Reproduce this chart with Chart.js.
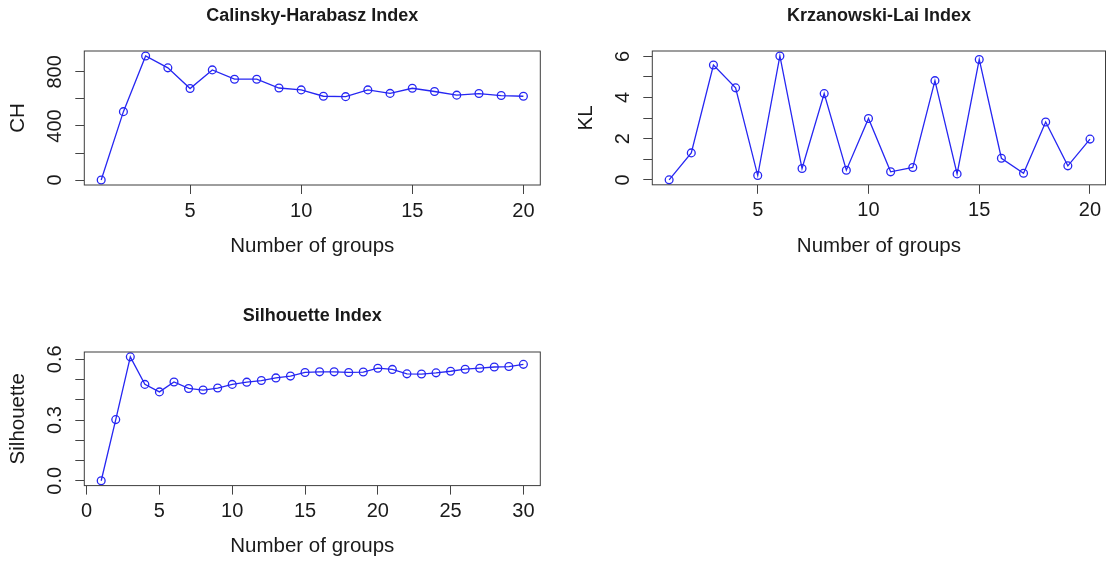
<!DOCTYPE html>
<html>
<head>
<meta charset="utf-8">
<script src="https://cdn.jsdelivr.net/npm/chart.js@4.4.1/dist/chart.umd.min.js"></script>
<style>
  html, body { margin: 0; padding: 0; background: #fff; overflow: hidden; }
  body { width: 1106px; height: 563px; position: relative; }
  .panel { position: absolute; }
</style>
</head>
<body>
<div class="panel" style="left:0;top:0;width:553px;height:281px"><canvas id="chChart"></canvas></div>
<div class="panel" style="left:553px;top:0;width:553px;height:281px"><canvas id="klChart"></canvas></div>
<div class="panel" style="left:0;top:281px;width:553px;height:282px"><canvas id="silChart"></canvas></div>
<script>
// Calinsky-Harabasz
const chGroups = [1, 2, 3, 4, 5, 6, 7, 8, 9, 10, 11, 12, 13, 14, 15, 16, 17, 18, 19, 20];
const chValues = [0, 506, 918, 830, 677, 815, 746, 746, 681, 667, 620, 617, 667, 641, 679, 655, 628, 640, 625, 620];
const chXTicks = [5, 10, 15, 20];
const chYTicks = [0, 200, 400, 600, 800];
const chYLabels = ["0", "", "400", "", "800"];

// Krzanowski-Lai
const klGroups = [1, 2, 3, 4, 5, 6, 7, 8, 9, 10, 11, 12, 13, 14, 15, 16, 17, 18, 19, 20];
const klValues = [0, 1.31, 5.58, 4.47, 0.21, 6.02, 0.55, 4.19, 0.47, 2.98, 0.39, 0.6, 4.82, 0.29, 5.85, 1.05, 0.32, 2.81, 0.68, 1.98];
const klXTicks = [5, 10, 15, 20];
const klYTicks = [0, 1, 2, 3, 4, 5, 6];
const klYLabels = ["0", "", "2", "", "4", "", "6"];

// Silhouette
const silGroups = [1, 2, 3, 4, 5, 6, 7, 8, 9, 10, 11, 12, 13, 14, 15, 16, 17, 18, 19, 20, 21, 22, 23, 24, 25, 26, 27, 28, 29, 30];
const silValues = [0, 0.302, 0.612, 0.476, 0.439, 0.488, 0.456, 0.448, 0.458, 0.476, 0.487, 0.495, 0.508, 0.517, 0.535, 0.538, 0.538, 0.535, 0.537, 0.556, 0.55, 0.528, 0.527, 0.533, 0.541, 0.551, 0.556, 0.562, 0.564, 0.575];
const silXTicks = [0, 5, 10, 15, 20, 25, 30];
const silYTicks = [0, 0.1, 0.2, 0.3, 0.4, 0.5, 0.6];
const silYLabels = ["0.0", "", "", "0.3", "", "", "0.6"];

const FONT = "'Liberation Sans', Arial, Helvetica, sans-serif";
const INK = "#1a1a1a";
const BLUE = "#2626f2";

// box round the plot region + rotated y tick labels (R style)
const rBoxPlugin = {
  id: "rBox",
  afterDraw(chart, args, opts) {
    const { ctx, chartArea: a } = chart;
    const ys = chart.scales.y;
    ctx.save();
    ctx.strokeStyle = "#3c3c3c";
    ctx.lineWidth = 1;
    ctx.strokeRect(a.left, a.top, a.right - a.left, a.bottom - a.top);
    ctx.fillStyle = INK;
    ctx.font = "20px " + FONT;
    ctx.textAlign = "center";
    ctx.textBaseline = "middle";
    ys.ticks.forEach((t, i) => {
      const txt = opts.labels[i];
      if (!txt) return;
      ctx.save();
      ctx.translate(a.left - 29, ys.getPixelForValue(t.value));
      ctx.rotate(-Math.PI / 2);
      ctx.fillText(txt, 0, 0);
      ctx.restore();
    });
    ctx.restore();
  },
};

function makePanel(id, p) {
  const gridOpts = {
    drawOnChartArea: false,
    drawTicks: true,
    tickLength: 9,
    color: "#444",
    lineWidth: 1,
  };
  return new Chart(document.getElementById(id), {
    type: "line",
    data: {
      datasets: [
        {
          data: p.xs.map((x, i) => ({ x: x, y: p.ys[i] })),
          borderColor: BLUE,
          borderWidth: 1.3,
          pointRadius: 3.9,
          pointBorderWidth: 1.3,
          pointBorderColor: BLUE,
          pointBackgroundColor: "rgba(0,0,0,0)",
          tension: 0,
          clip: false,
        },
      ],
    },
    options: {
      responsive: true,
      maintainAspectRatio: false,
      animation: false,
      events: [],
      layout: {
        autoPadding: false,
        padding: { left: 0, right: p.padRight, top: 0, bottom: 0 },
      },
      plugins: {
        legend: { display: false },
        tooltip: { enabled: false },
        title: {
          display: true,
          text: p.title,
          fullSize: false,
          color: INK,
          font: { family: FONT, size: 18, weight: "bold", lineHeight: 1 },
          padding: p.titlePad,
        },
        rBox: { labels: p.yLabels },
      },
      scales: {
        x: {
          type: "linear",
          min: p.xMin,
          max: p.xMax,
          afterBuildTicks: (s) => { s.ticks = p.xTicks.map((v) => ({ value: v })); },
          afterFit: (s) => {
            s.height = p.xAxisHeight;
            s.paddingLeft = 0;
            s.paddingRight = 0;
          },
          grid: gridOpts,
          border: { display: false },
          ticks: {
            autoSkip: false,
            maxRotation: 0,
            padding: 5,
            color: INK,
            font: { family: FONT, size: 20 },
            callback: (v) => String(v),
          },
          title: {
            display: true,
            text: "Number of groups",
            color: INK,
            font: { family: FONT, size: 20.5 },
            padding: { top: 0, bottom: p.xTitlePad },
          },
        },
        y: {
          type: "linear",
          min: p.yMin,
          max: p.yMax,
          afterBuildTicks: (s) => { s.ticks = p.yTicks.map((v) => ({ value: v })); },
          afterFit: (s) => {
            s.width = p.yAxisWidth;
            s.paddingTop = 0;
            s.paddingBottom = 0;
          },
          grid: gridOpts,
          border: { display: false },
          ticks: { display: false },
          title: {
            display: true,
            text: p.yTitle,
            color: INK,
            font: { family: FONT, size: 20.5 },
            padding: { top: p.yTitlePad, bottom: 0 },
          },
        },
      },
    },
    plugins: [rBoxPlugin],
  });
}

makePanel("chChart", {
  title: "Calinsky-Harabasz Index", yTitle: "CH",
  xs: chGroups, ys: chValues, xTicks: chXTicks, yTicks: chYTicks, yLabels: chYLabels,
  xMin: 0.24, xMax: 20.76, yMin: -36.7, yMax: 954.7,
  yAxisWidth: 84.3, xAxisHeight: 96, padRight: 12.7,
  titlePad: { top: 7.5, bottom: 25.5 }, yTitlePad: 5.8, xTitlePad: 22.7,
});

makePanel("klChart", {
  title: "Krzanowski-Lai Index", yTitle: "KL",
  xs: klGroups, ys: klValues, xTicks: klXTicks, yTicks: klYTicks, yLabels: klYLabels,
  xMin: 0.24, xMax: 20.7, yMin: -0.24, yMax: 6.26,
  yAxisWidth: 99.3, xAxisHeight: 96.2, padRight: 0.5,
  titlePad: { top: 7.5, bottom: 25.5 }, yTitlePad: 21.5, xTitlePad: 22.7,
});

makePanel("silChart", {
  title: "Silhouette Index", yTitle: "Silhouette",
  xs: silGroups, ys: silValues, xTicks: silXTicks, yTicks: silYTicks, yLabels: silYLabels,
  xMin: -0.16, xMax: 31.16, yMin: -0.024, yMax: 0.636,
  yAxisWidth: 84.3, xAxisHeight: 77.4, padRight: 12.7,
  titlePad: { top: 26.3, bottom: 26.7 }, yTitlePad: 5.8, xTitlePad: 4.1,
});
</script>
</body>
</html>
